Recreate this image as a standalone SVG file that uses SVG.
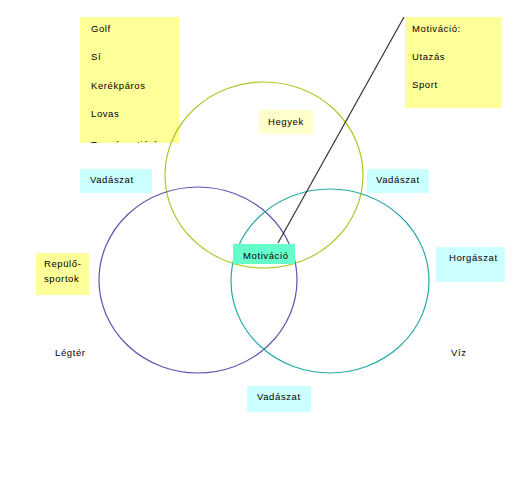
<svg xmlns="http://www.w3.org/2000/svg" width="529" height="493" viewBox="0 0 529 493">
<style>
text{font-family:"Liberation Sans",Arial,sans-serif;font-size:9.5px;letter-spacing:0.6px;fill:#000}
.y{fill:#ffff99}
.ly{fill:#ffffcc}
.c{fill:#ccffff}
.g{fill:#66ffcc}
.circ{fill:none;stroke-width:1.2}
</style>
<defs>
<clipPath id="clipL"><rect x="80" y="17" width="99" height="126"/></clipPath>
</defs>
<rect width="529" height="493" fill="#ffffff"/>
<g id="box-sports">
<rect class="y" x="80" y="17" width="99" height="126"/>
<g clip-path="url(#clipL)">
<text x="91" y="32">Golf</text>
<text x="91" y="60">Sí</text>
<text x="91" y="89">Kerékpáros</text>
<text x="91" y="117">Lovas</text>
<text x="91" y="147.5">Természetjárás</text>
</g>
</g>
<g id="box-motivacio-list">
<rect class="y" x="405" y="17" width="96" height="91"/>
<text x="412" y="32">Motiváció:</text>
<text x="412" y="60">Utazás</text>
<text x="412" y="88">Sport</text>
</g>
<g id="circles">
<ellipse id="circle-hegyek" class="circ" cx="264" cy="175" rx="99" ry="93" stroke="#a8c828"/>
<ellipse id="circle-legter" class="circ" cx="198" cy="280" rx="99" ry="93" stroke="#5a54b0"/>
<ellipse id="circle-viz" class="circ" cx="330" cy="281" rx="99" ry="92" stroke="#26a8a8"/>
</g>
<g id="connectors">
<line x1="404" y1="17" x2="278" y2="243" stroke="#333333" stroke-width="1.2"/>
</g>
<g id="box-hegyek">
<rect class="ly" x="259" y="110" width="54" height="24"/>
<text x="268" y="125">Hegyek</text>
</g>
<g id="box-vadaszat-left">
<rect class="c" x="80" y="169" width="72" height="24"/>
<text x="90" y="183">Vadászat</text>
</g>
<g id="box-vadaszat-right">
<rect class="c" x="367" y="169" width="62" height="24"/>
<text x="376" y="183">Vadászat</text>
</g>
<g id="box-repulo">
<rect class="y" x="36" y="253" width="53" height="42"/>
<text x="44" y="267">Repülő-</text>
<text x="44" y="282">sportok</text>
</g>
<g id="box-motivacio">
<rect class="g" x="233" y="244" width="62" height="20"/>
<text x="243" y="259">Motiváció</text>
</g>
<g id="box-horgaszat">
<rect class="c" x="436" y="247" width="69" height="35"/>
<text x="449" y="261">Horgászat</text>
</g>
<g id="box-vadaszat-bottom">
<rect class="c" x="247" y="386" width="64" height="26"/>
<text x="257" y="400">Vadászat</text>
</g>
<g id="label-legter"><text x="55" y="356">Légtér</text></g>
<g id="label-viz"><text x="451" y="356">Víz</text></g>
</svg>
